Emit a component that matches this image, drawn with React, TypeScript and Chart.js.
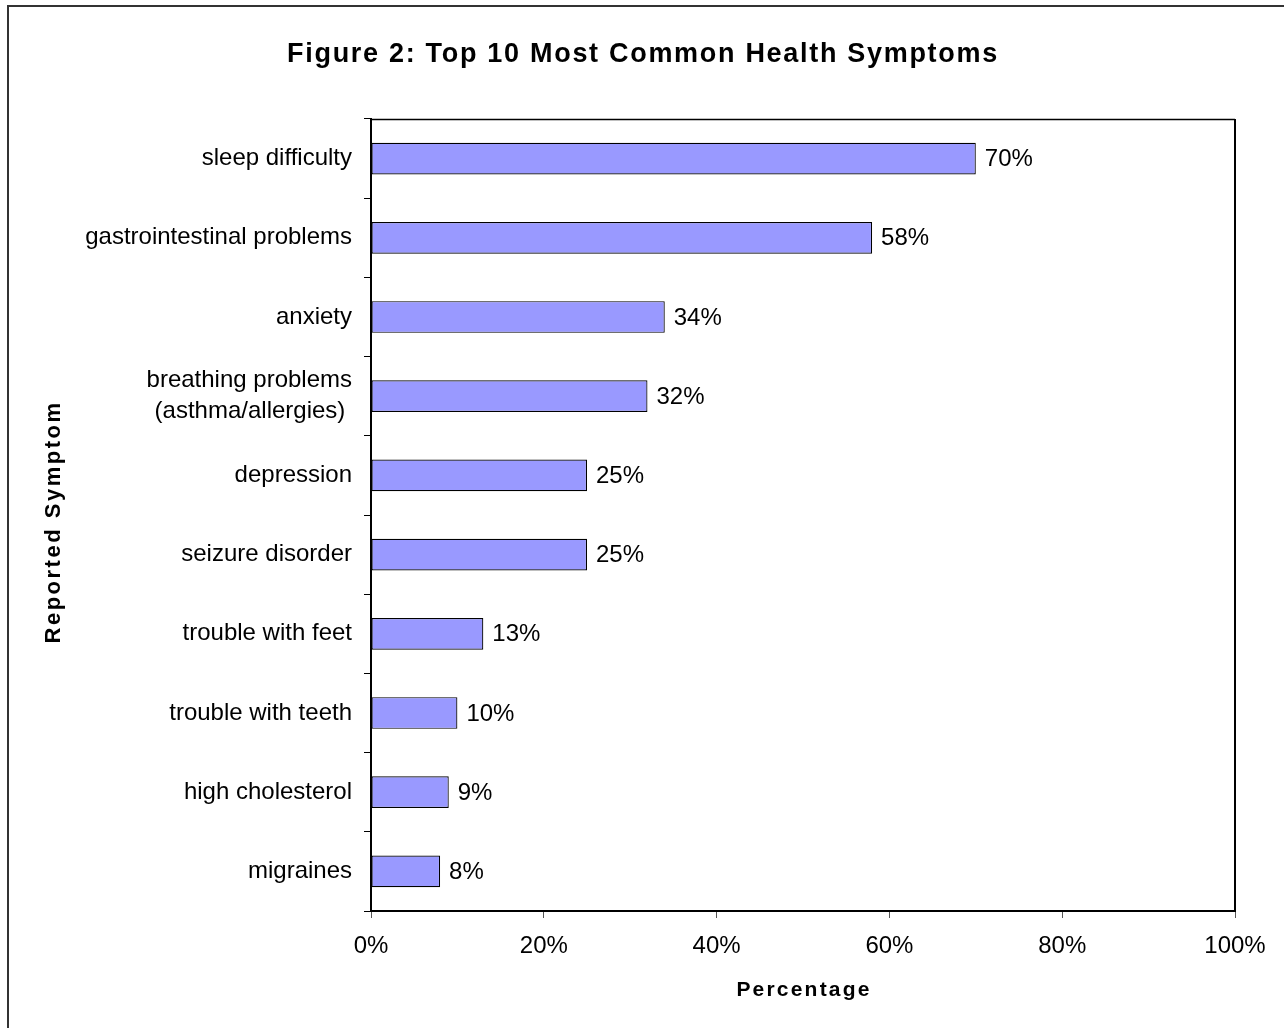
import React, { useEffect, useRef } from "react";
import { Chart, registerables } from "chart.js";

Chart.register(...registerables);

const TITLE = "Figure 2: Top 10 Most Common Health Symptoms";
const X_TITLE = "Percentage";
const Y_TITLE = "Reported Symptom";

const categories: (string | string[])[] = [
  "sleep difficulty",
  "gastrointestinal problems",
  "anxiety",
  ["breathing problems", "(asthma/allergies) "],
  "depression",
  "seizure disorder",
  "trouble with feet",
  "trouble with teeth",
  "high cholesterol",
  "migraines",
];

const values: number[] = [70, 58, 34, 32, 25, 25, 13, 10, 9, 8];

const xTicks = { min: 0, max: 100, step: 20 };

const FONT = "'Liberation Sans', Arial, sans-serif";

const decorPlugin = {
  id: "decor",
  beforeDraw(chart: any) {
    const { ctx, width, height } = chart;
    ctx.save();
    ctx.fillStyle = "#ffffff";
    ctx.fillRect(0, 0, width, height);
    ctx.strokeStyle = "#333333";
    ctx.lineWidth = 2;
    ctx.beginPath();
    ctx.moveTo(8, height);
    ctx.lineTo(8, 6);
    ctx.lineTo(width, 6);
    ctx.stroke();
    ctx.restore();
  },
  afterDatasetsDraw(chart: any) {
    const { ctx, chartArea } = chart;
    ctx.save();
    // plot frame (top and right edges)
    ctx.strokeStyle = "#000000";
    ctx.lineWidth = 1.5;
    ctx.beginPath();
    ctx.moveTo(chartArea.left, chartArea.top + 0.5);
    ctx.lineTo(chartArea.right, chartArea.top + 0.5);
    ctx.stroke();
    ctx.lineWidth = 2;
    ctx.beginPath();
    ctx.moveTo(chartArea.right, chartArea.top);
    ctx.lineTo(chartArea.right, chartArea.bottom);
    ctx.stroke();

    // value labels
    const meta = chart.getDatasetMeta(0);
    ctx.fillStyle = "#000000";
    ctx.font = `24px ${FONT}`;
    ctx.textAlign = "left";
    ctx.textBaseline = "middle";
    meta.data.forEach((el: any, i: number) => {
      const v = chart.data.datasets[0].data[i];
      ctx.fillText(`${v}%`, el.x + 9, el.y + 1);
    });

    // titles
    ctx.textAlign = "center";
    ctx.textBaseline = "alphabetic";
    (ctx as any).letterSpacing = "1.7px";
    ctx.font = `bold 27px ${FONT}`;
    ctx.fillText(TITLE, chart.width / 2 + 1, 62);

    (ctx as any).letterSpacing = "2.2px";
    ctx.font = `bold 21px ${FONT}`;
    ctx.fillText(X_TITLE, (chartArea.left + chartArea.right) / 2 + 1, 996);

    (ctx as any).letterSpacing = "2.5px";
    ctx.font = `bold 22px ${FONT}`;
    ctx.translate(60, 523);
    ctx.rotate(-Math.PI / 2);
    ctx.fillText(Y_TITLE, 1, 0);
    ctx.restore();
  },
};

export default function App() {
  const ref = useRef<HTMLCanvasElement | null>(null);

  useEffect(() => {
    if (!ref.current) return;
    const chart = new Chart(ref.current, {
      type: "bar",
      data: {
        labels: categories,
        datasets: [
          {
            data: values,
            backgroundColor: "#9999FF",
            borderColor: "#000000",
            borderWidth: 1.2,
            borderSkipped: false,
            barPercentage: 0.4,
            categoryPercentage: 1.0,
          },
        ],
      },
      options: {
        indexAxis: "y",
        responsive: false,
        animation: false,
        devicePixelRatio: 1,
        layout: { padding: { top: 119, left: 8, right: 49, bottom: 0 } },
        plugins: {
          legend: { display: false },
          title: { display: false },
          tooltip: { enabled: false },
        },
        scales: {
          y: {
            type: "category",
            offset: true,
            afterFit(scale: any) {
              scale.width = 363;
            },
            grid: {
              offset: true,
              drawOnChartArea: false,
              drawTicks: true,
              tickLength: 7,
              color: "#000000",
            },
            border: { display: true, color: "#000000", width: 2 },
            ticks: {
              color: "#000000",
              padding: 12,
              font: { family: FONT, size: 24, lineHeight: 1.3 },
              autoSkip: false,
            },
          },
          x: {
            type: "linear",
            min: xTicks.min,
            max: xTicks.max,
            afterFit(scale: any) {
              scale.height = 117;
            },
            grid: {
              drawOnChartArea: false,
              drawTicks: true,
              tickLength: 7,
              color: "#555555",
            },
            border: { display: true, color: "#000000", width: 2 },
            ticks: {
              stepSize: xTicks.step,
              color: "#000000",
              padding: 14,
              font: { family: FONT, size: 24 },
              callback: (v: any) => `${v}%`,
            },
          },
        },
      },
      plugins: [decorPlugin],
    });
    return () => chart.destroy();
  }, []);

  return (
    <div style={{ position: "absolute", left: 0, top: 0, width: 1284, height: 1028 }}>
      <canvas ref={ref} width={1284} height={1028} style={{ display: "block" }} />
    </div>
  );
}
